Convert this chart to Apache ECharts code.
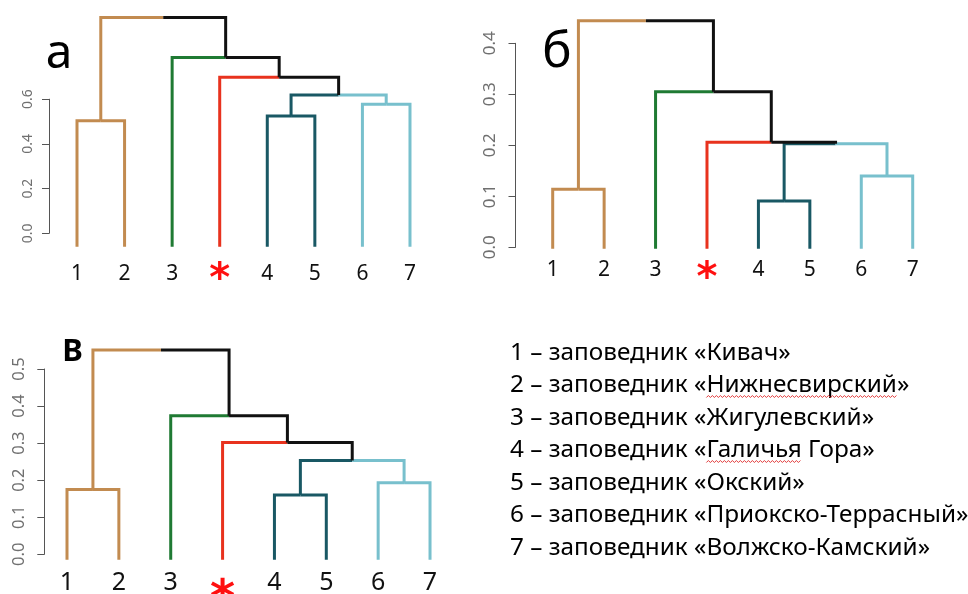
<!DOCTYPE html>
<html><head><meta charset="utf-8">
<script src="https://cdn.jsdelivr.net/npm/echarts@6/dist/echarts.min.js"></script>
<style>html,body{margin:0;padding:0;background:#fff}#c{width:968px;height:594px}</style>
</head><body><div id="c"></div>
<script>
// ---------- DATA ----------
const leafLabels = ['1', '2', '3', '*', '4', '5', '6', '7'];
const leafClusters = ['k1', 'k1', 'k3', 'ks', 'k45', 'k45', 'k67', 'k67'];
// merges in R hclust convention: negative = leaf (1-based), positive = earlier merge (1-based)
const mergesA = [[-1, -2], [-5, -6], [-7, -8], [2, 3], [-4, 4], [-3, 5], [1, 6]];
const heightsA = [0.504, 0.525, 0.577, 0.619, 0.698, 0.787, 0.966];
const leafBaseA = -0.06;
const ticksA = ['0.0', '0.2', '0.4', '0.6'];

const mergesB = [[-5, -6], [-1, -2], [-7, -8], [1, 3], [-4, 4], [-3, 5], [2, 6]];
const heightsB = [0.091, 0.114, 0.140, 0.203, 0.206, 0.305, 0.444];
const leafBaseB = -0.003;
const ticksB = ['0.0', '0.1', '0.2', '0.3', '0.4'];

const mergesV = [[-5, -6], [-1, -2], [-7, -8], [1, 3], [-4, 4], [-3, 5], [2, 6]];
const heightsV = [0.160, 0.175, 0.193, 0.253, 0.302, 0.374, 0.551];
const leafBaseV = -0.015;
const ticksV = ['0.0', '0.1', '0.2', '0.3', '0.4', '0.5'];

const panelLetters = ['а', 'б', 'В'];
const legendPrefix = '– заповедник «';
const legendNames = ['Кивач', 'Нижнесвирский', 'Жигулевский', 'Галичья Гора', 'Окский', 'Приокско-Террасный', 'Волжско-Камский'];
// words flagged by the spell checker in the original slide: [line index, word]
const spellFlags = [[1, 'Нижнесвирский'], [3, 'Галичья']];

// ---------- STYLE / LAYOUT ----------
const clusterColors = { k1: '#C28B50', k3: '#1F7A33', ks: '#E8321E', k45: '#195864', k67: '#78C0CD', mix: '#111111' };
const FONT = '"Noto Sans", "Open Sans", sans-serif';
const panels = [
  { merges: mergesA, heights: heightsA, base: leafBaseA, ticks: ticksA, y0: 233.3, ppu: 223.5, x0: 77, dx: 47.57, axisX: 49, tickFont: 14, tickMargin: 14, leafFont: 21, leafMargin: 27, starFont: 40, starPad: 12.8 },
  { merges: mergesB, heights: heightsB, base: leafBaseB, ticks: ticksB, y0: 247.3, ppu: 510, x0: 552.7, dx: 51.43, axisX: 515.5, tickFont: 17, tickMargin: 17, leafFont: 21, leafMargin: 21, starFont: 40, starPad: 18.8 },
  { merges: mergesV, heights: heightsV, base: leafBaseV, ticks: ticksV, y0: 554.3, ppu: 370.6, x0: 67, dx: 51.86, axisX: 44.3, tickFont: 16.5, tickMargin: 17, leafFont: 25, leafMargin: 23, starFont: 48, starPad: 36 }
];

function buildSegments(merges, heights, base) {
  const nodes = [];
  const info = ref => ref < 0 ? { x: -ref - 1, h: base, cl: leafClusters[-ref - 1] } : nodes[ref - 1];
  const segs = [];
  merges.forEach((m, k) => {
    const L = info(m[0]), R = info(m[1]);
    const h = heights[k];
    const x = (L.x + R.x) / 2;
    const cl = L.cl === R.cl ? L.cl : 'mix';
    segs.push({ coords: [[x, h], [L.x, h], [L.x, L.h]], lineStyle: { color: clusterColors[L.cl] } });
    segs.push({ coords: [[x, h], [R.x, h], [R.x, R.h]], lineStyle: { color: clusterColors[R.cl] } });
    nodes.push({ x, h, cl });
  });
  return segs;
}

const grid = [], xAxis = [], yAxis = [], series = [];
panels.forEach((p, i) => {
  const ymax = p.heights[p.heights.length - 1] + 0.05;
  const ymin = p.base;
  const gi = grid.length;
  grid.push({ left: p.x0 - 0.5 * p.dx, width: 8 * p.dx, top: p.y0 - ymax * p.ppu, height: (ymax - ymin) * p.ppu, containLabel: false, outerBoundsMode: 'none' });
  const xv = xAxis.length;
  xAxis.push({ gridIndex: gi, type: 'value', min: -0.5, max: 7.5, show: false });
  xAxis.push({
    gridIndex: gi, type: 'category', data: leafLabels, position: 'bottom',
    axisLine: { show: false }, axisTick: { show: false }, splitLine: { show: false },
    axisLabel: {
      interval: 0, margin: p.leafMargin, verticalAlign: 'middle',
      formatter: v => v === '*' ? '{s|*}' : '{d|' + v + '}',
      rich: {
        d: { fontFamily: FONT, fontSize: p.leafFont, color: '#111', lineHeight: p.leafFont },
        s: { fontFamily: 'DejaVu Sans', fontSize: p.starFont, fontWeight: 'bold', color: '#FF1010', lineHeight: p.leafFont, padding: [p.starPad, 0, 0, 0] }
      }
    }
  });
  const yv = yAxis.length;
  yAxis.push({ gridIndex: gi, type: 'value', min: ymin, max: ymax, show: false });
  series.push({
    type: 'lines', coordinateSystem: 'cartesian2d', polyline: true,
    xAxisIndex: xv, yAxisIndex: yv, clip: false, silent: true,
    lineStyle: { width: 3, opacity: 1, cap: 'butt', join: 'miter' },
    data: buildSegments(p.merges, p.heights, p.base)
  });
  // axis-only grid (R style axis spanning only the tick range)
  const tmax = parseFloat(p.ticks[p.ticks.length - 1]);
  const tstep = parseFloat(p.ticks[1]);
  const ga = grid.length;
  grid.push({ left: p.axisX, width: 10, top: p.y0 - tmax * p.ppu, height: tmax * p.ppu, containLabel: false, outerBoundsMode: 'none' });
  xAxis.push({ gridIndex: ga, type: 'value', min: 0, max: 1, show: false });
  yAxis.push({
    gridIndex: ga, type: 'value', min: 0, max: tmax, interval: tstep, position: 'left',
    axisLine: { show: true, lineStyle: { color: '#555', width: 1 } },
    axisTick: { show: true, length: 7, lineStyle: { color: '#555', width: 1 } },
    splitLine: { show: false },
    axisLabel: { rotate: 90, fontFamily: FONT, fontSize: p.tickFont, color: '#707070', margin: p.tickMargin, formatter: v => v.toFixed(1) }
  });
});

const graphic = [];
const letterPos = [[59, 54, 48, 'normal'], [557, 53, 49, 'normal'], [72.5, 352, 31, 'bold']];
panelLetters.forEach((t, i) => {
  const [x, y, fs, fw] = letterPos[i];
  graphic.push({ type: 'text', x, y, style: { text: t, fontFamily: FONT, fontSize: fs, fontWeight: fw, fill: '#000', align: 'center', verticalAlign: 'middle' } });
});
const LEG_X = 510, LEG_Y = 353, LEG_STEP = 32.5, LEG_FS = 24.3;
const legendText = legendNames.map((n, i) => (i + 1) + ' ' + legendPrefix + n + '»');
legendText.forEach((t, i) => {
  graphic.push({ type: 'text', x: LEG_X, y: LEG_Y + i * LEG_STEP, style: { text: t, fontFamily: FONT, fontSize: LEG_FS, fill: '#000', align: 'left', verticalAlign: 'middle' } });
});
// spell-checker wavy underlines, positioned by measuring the text
const ctx = document.createElement('canvas').getContext('2d');
ctx.font = LEG_FS + 'px ' + FONT;
spellFlags.forEach(([li, word]) => {
  const line = legendText[li];
  const start = LEG_X + ctx.measureText(line.slice(0, line.indexOf(word))).width;
  const w = ctx.measureText(word).width;
  const y = LEG_Y + li * LEG_STEP + 11;
  const pts = [];
  for (let x = 0, k = 0; x <= w; x += 2, k++) pts.push([start + x, y + (k % 2 ? -1 : 1)]);
  graphic.push({ type: 'polyline', shape: { points: pts }, style: { stroke: '#E23A3A', lineWidth: 1, fill: null } });
});

const chart = echarts.init(document.getElementById('c'), null, { renderer: 'canvas' });
chart.setOption({ animation: false, backgroundColor: '#fff', grid, xAxis, yAxis, series, graphic });
</script></body></html>
